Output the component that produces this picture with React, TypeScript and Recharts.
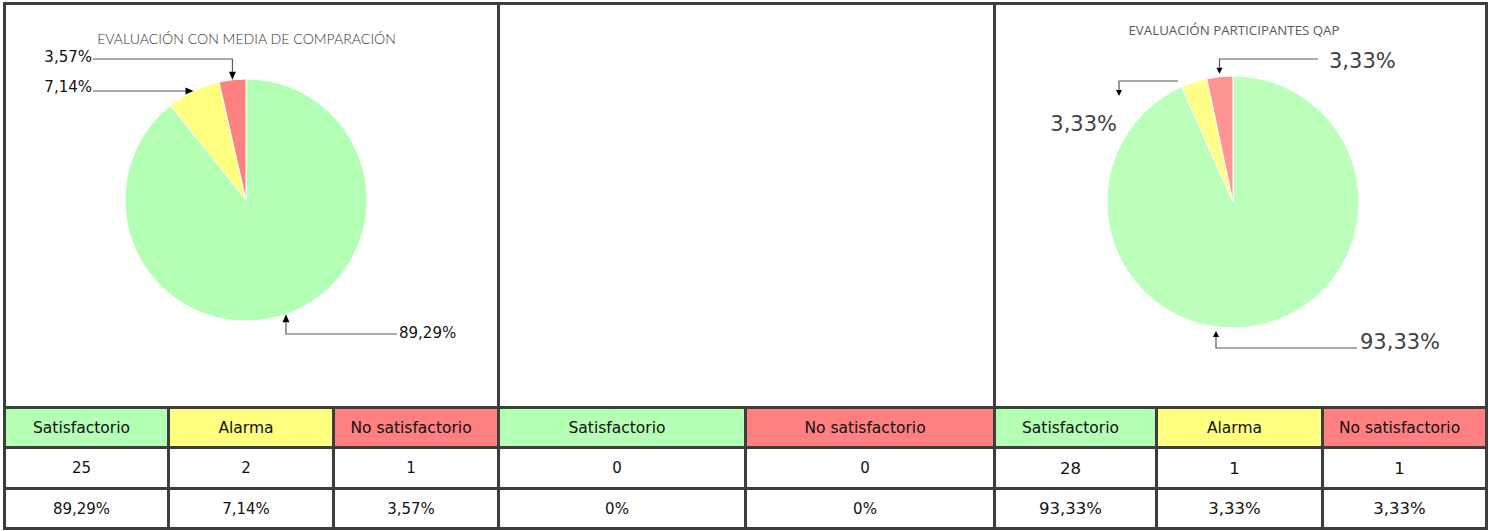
import React from 'react';
import { PieChart, Pie, Cell } from 'recharts';

// ---------- data ----------
const categories = ['Satisfactorio', 'Alarma', 'No satisfactorio'];
const mediaCounts = [25, 2, 1];
const mediaPercents = ['89,29%', '7,14%', '3,57%'];
const middleCategories = ['Satisfactorio', 'No satisfactorio'];
const middleCounts = [0, 0];
const middlePercents = ['0%', '0%'];
const qapCounts = [28, 1, 1];
const qapPercents = ['93,33%', '3,33%', '3,33%'];
const mediaTitle = 'EVALUACIÓN CON MEDIA DE COMPARACIÓN';
const qapTitle = 'EVALUACIÓN PARTICIPANTES QAP';

// ---------- styles / layout ----------
const HEADER_COLORS: Record<string, string> = {
  'Satisfactorio': '#b3ffb3',
  'Alarma': '#ffff80',
  'No satisfactorio': '#ff8080',
};
const PIE1_COLORS = ['#b3ffb3', '#ffff80', '#ff8080'];
const PIE3_COLORS = ['#bbffbb', '#ffff88', '#ff9494'];
const LINE = '#3d3d3d';
const LW = 3;
const V_LINES = [3, 497, 993, 1485];
const H_LINES = [2, 406, 446, 487, 527];
const COL_LINES = [[167, 332], [744], [1155, 1321]];

type Pt = [number | null, number | null] | 'tip';
interface LeaderSpec { path: Pt[]; text: [number, number]; anchor: 'start' | 'end'; }
interface LeaderStyle { tipGap: number; arrowLen: number; arrowW: number; lineColor: string; font: number; color: string; }

const PIE1_LEADERS: LeaderSpec[] = [
  { path: [[151, 134], [null, 134], 'tip'], text: [153, 133], anchor: 'start' },
  { path: [[-153, null], 'tip'], text: [-154, -113], anchor: 'end' },
  { path: [[-153, -141], [null, -141], 'tip'], text: [-154, -143], anchor: 'end' },
];
const PIE3_LEADERS: LeaderSpec[] = [
  { path: [[124, 146], [-17, 146], [-17, 129]], text: [127, 140], anchor: 'start' },
  { path: [[-55, -121], [-114, -121], [-114, -106]], text: [-116, -78], anchor: 'end' },
  { path: [[85, -143], [null, -143], 'tip'], text: [96, -141], anchor: 'start' },
];

function makeLabel(specs: LeaderSpec[], texts: string[], st: LeaderStyle) {
  return (props: any) => {
    const { cx, cy, midAngle, outerRadius, index } = props;
    const spec = specs[index];
    if (!spec) return null;
    const RAD = Math.PI / 180;
    const tr = outerRadius + st.tipGap;
    const tip = { x: cx + tr * Math.cos(-midAngle * RAD), y: cy + tr * Math.sin(-midAngle * RAD) };
    const pts = spec.path.map((p) =>
      p === 'tip'
        ? [tip.x, tip.y]
        : [p[0] === null ? tip.x : cx + p[0], p[1] === null ? tip.y : cy + p[1]]
    );
    const n = pts.length;
    const [x2, y2] = pts[n - 1];
    const [x1, y1] = pts[n - 2];
    const len = Math.hypot(x2 - x1, y2 - y1) || 1;
    const ux = (x2 - x1) / len;
    const uy = (y2 - y1) / len;
    const bx = x2 - ux * st.arrowLen;
    const by = y2 - uy * st.arrowLen;
    const aw = st.arrowW / 2;
    const tri = `${x2},${y2} ${bx - uy * aw},${by + ux * aw} ${bx + uy * aw},${by - ux * aw}`;
    const linePts = [...pts.slice(0, n - 1), [bx, by]];
    return (
      <g key={`lbl-${index}`}>
        <polyline points={linePts.map((p) => p.join(',')).join(' ')} fill="none" stroke={st.lineColor} strokeWidth={1.2} />
        <polygon points={tri} fill="#000" />
        <text
          x={cx + spec.text[0]}
          y={cy + spec.text[1]}
          textAnchor={spec.anchor}
          dominantBaseline="central"
          fontFamily="'DejaVu Sans', sans-serif"
          fontSize={st.font}
          fill={st.color}
        >
          {texts[index]}
        </text>
      </g>
    );
  };
}

const mediaData = categories.map((c, i) => ({ name: c, value: mediaCounts[i] }));
const middleData = middleCategories.map((c, i) => ({ name: c, value: middleCounts[i] }));
const qapData = categories.map((c, i) => ({ name: c, value: qapCounts[i] }));

const abs = (l: number, t: number, w: number, h: number, extra: React.CSSProperties = {}): React.CSSProperties => ({
  position: 'absolute', left: l, top: t, width: w, height: h, ...extra,
});

export default function App() {
  const panels = [
    { cats: categories, counts: mediaCounts, pcts: mediaPercents, valueFont: 15 },
    { cats: middleCategories, counts: middleCounts, pcts: middlePercents, valueFont: 15 },
    { cats: categories, counts: qapCounts, pcts: qapPercents, valueFont: 16.5 },
  ];

  const cells: React.ReactNode[] = [];
  panels.forEach((p, pi) => {
    const edges = [V_LINES[pi], ...COL_LINES[pi], V_LINES[pi + 1]];
    for (let r = 0; r < 3; r++) {
      const top = H_LINES[r + 1] + LW;
      const h = H_LINES[r + 2] - top;
      for (let c = 0; c < p.cats.length; c++) {
        const left = edges[c] + LW;
        const w = edges[c + 1] - left;
        const txt = r === 0 ? p.cats[c] : r === 1 ? String(p.counts[c]) : p.pcts[c];
        const bg = r === 0 ? HEADER_COLORS[p.cats[c]] : '#ffffff';
        cells.push(
          <div
            key={`c-${pi}-${r}-${c}`}
            style={abs(left, top, w, h, {
              background: bg,
              display: 'flex',
              alignItems: 'center',
              justifyContent: 'center',
              boxSizing: 'border-box',
              paddingRight: 10,
              fontFamily: "'DejaVu Sans', sans-serif",
              fontSize: r === 0 ? 15.5 : p.valueFont,
              color: '#111',
            })}
          >
            {txt}
          </div>
        );
      }
    }
  });

  const chartAreas = [0, 1, 2].map((pi) => ({
    left: V_LINES[pi] + LW,
    top: H_LINES[0] + LW,
    width: V_LINES[pi + 1] - V_LINES[pi] - LW,
    height: H_LINES[1] - H_LINES[0] - LW,
  }));

  return (
    <div style={abs(0, 0, 1495, 531, { background: '#fff', overflow: 'hidden' })}>
      <div style={abs(V_LINES[0], H_LINES[0], V_LINES[3] + LW - V_LINES[0], H_LINES[4] + LW - H_LINES[0], { background: LINE })} />
      {chartAreas.map((a, i) => (
        <div key={`area-${i}`} style={abs(a.left, a.top, a.width, a.height, { background: '#fff' })} />
      ))}
      {cells}

      {/* Panel 1 */}
      <div style={abs(chartAreas[0].left, chartAreas[0].top, chartAreas[0].width, chartAreas[0].height)}>
        <PieChart width={chartAreas[0].width} height={chartAreas[0].height}>
          <Pie
            data={mediaData}
            dataKey="value"
            nameKey="name"
            cx={235}
            cy={190}
            outerRadius={121}
            startAngle={90}
            endAngle={-270}
            stroke="#fff"
            strokeWidth={1}
            isAnimationActive={false}
            labelLine={false}
            label={makeLabel(PIE1_LEADERS, mediaPercents, {
              tipGap: 0, arrowLen: 8, arrowW: 7, lineColor: '#595959', font: 15, color: '#111',
            })}
          >
            {mediaData.map((d, i) => <Cell key={d.name} fill={PIE1_COLORS[i]} />)}
          </Pie>
        </PieChart>
        <div
          style={abs(0, 24, chartAreas[0].width - 10, 20, {
            textAlign: 'center',
            fontFamily: "'Lato', sans-serif",
            fontWeight: 300,
            fontSize: 14.1,
            color: '#333',
            lineHeight: '20px',
            whiteSpace: 'nowrap',
          })}
        >
          {mediaTitle}
        </div>
      </div>

      {/* Panel 2 (no data) */}
      <div style={abs(chartAreas[1].left, chartAreas[1].top, chartAreas[1].width, chartAreas[1].height)}>
        <PieChart width={chartAreas[1].width} height={chartAreas[1].height}>
          <Pie
            data={middleData}
            dataKey="value"
            nameKey="name"
            cx="50%"
            cy="50%"
            outerRadius={121}
            startAngle={90}
            endAngle={-270}
            isAnimationActive={false}
            label={false}
            labelLine={false}
            stroke="none"
          >
            {middleData.map((d) => <Cell key={d.name} fill={HEADER_COLORS[d.name]} />)}
          </Pie>
        </PieChart>
      </div>

      {/* Panel 3 */}
      <div style={abs(chartAreas[2].left, chartAreas[2].top, chartAreas[2].width, chartAreas[2].height)}>
        <PieChart width={chartAreas[2].width} height={chartAreas[2].height}>
          <Pie
            data={qapData}
            dataKey="value"
            nameKey="name"
            cx={232}
            cy={192}
            outerRadius={126}
            startAngle={90}
            endAngle={-270}
            stroke="#fff"
            strokeWidth={1}
            isAnimationActive={false}
            labelLine={false}
            label={makeLabel(PIE3_LEADERS, qapPercents, {
              tipGap: 3, arrowLen: 6, arrowW: 6, lineColor: '#595959', font: 21, color: '#404040',
            })}
          >
            {qapData.map((d, i) => <Cell key={d.name} fill={PIE3_COLORS[i]} />)}
          </Pie>
        </PieChart>
        <div
          style={abs(0, 15, 476, 20, {
            textAlign: 'center',
            fontFamily: "'Open Sans', sans-serif",
            fontSize: 13.3,
            color: '#595959',
            lineHeight: '20px',
            whiteSpace: 'nowrap',
          })}
        >
          {qapTitle}
        </div>
      </div>
    </div>
  );
}
